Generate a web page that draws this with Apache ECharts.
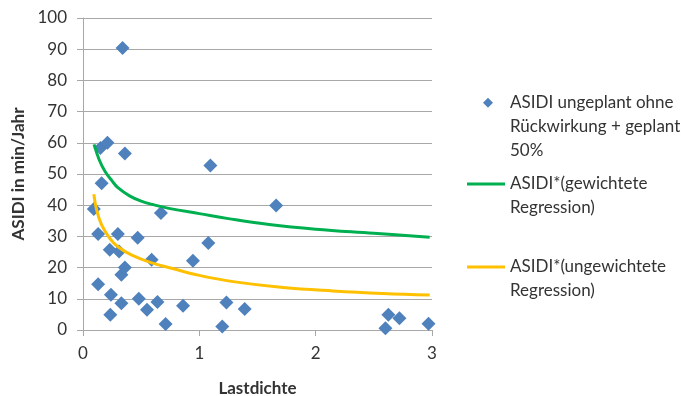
<!DOCTYPE html>
<html>
<head>
<meta charset="utf-8">
<script src="https://cdn.jsdelivr.net/npm/echarts@6/dist/echarts.min.js"></script>
<style>
  html, body { margin: 0; padding: 0; background: #ffffff; }
  #chart { width: 692px; height: 396px; }
</style>
</head>
<body>
<div id="chart"></div>
<script>
// Measured ASIDI per feeder against load density
const lastdichte = [0.093, 0.13, 0.13, 0.15, 0.16, 0.21, 0.23, 0.235, 0.24, 0.30,
  0.31, 0.33, 0.33, 0.34, 0.36, 0.36, 0.47, 0.48, 0.55, 0.59,
  0.64, 0.67, 0.71, 0.86, 0.945, 1.077, 1.095, 1.197, 1.233, 1.39,
  1.66, 2.60, 2.625, 2.72, 2.97];
const asidi = [38.8, 30.8, 14.7, 58.3, 47.0, 60.0, 25.7, 4.9, 11.3, 30.8,
  25.2, 17.7, 8.6, 90.4, 56.6, 20.0, 29.6, 10.0, 6.5, 22.5,
  9.0, 37.5, 1.9, 7.8, 22.2, 27.9, 52.7, 1.1, 8.8, 6.7,
  39.9, 0.6, 4.9, 3.8, 2.0];

// Weighted regression curve
const gewX = [0.095, 0.14, 0.19, 0.25, 0.30, 0.40, 0.50, 0.60, 0.75, 1.0, 1.25, 1.6, 2.0, 2.5, 2.98];
const gewY = [59.5, 54.5, 50.8, 47.8, 45.6, 43.0, 41.3, 40.2, 38.9, 37.3, 35.7, 33.8, 32.3, 31.0, 29.7];

// Unweighted regression curve
const ungewX = [0.093, 0.117, 0.16, 0.23, 0.30, 0.42, 0.59, 0.76, 1.0, 1.29, 1.72, 2.15, 2.58, 2.98];
const ungewY = [43.5, 38.5, 33.7, 29.4, 26.7, 24.0, 21.5, 19.8, 17.5, 15.5, 13.6, 12.5, 11.7, 11.2];

const yTicks = { min: 0, max: 100, interval: 10 };
const xTicks = { min: 0, max: 3, interval: 1 };

const nameScatter = 'ASIDI ungeplant ohne\nRückwirkung + geplant\n50%';
const nameGew = 'ASIDI*(gewichtete\nRegression)';
const nameUngew = 'ASIDI*(ungewichtete\nRegression)';

const zip = (xs, ys) => xs.map((x, i) => [x, ys[i]]);

const FONT = 'Lato, "Open Sans", sans-serif';
const GRID = '#a8a8a8';
const TXT = '#333333';
const LH = 24;

const chart = echarts.init(document.getElementById('chart'), null, { renderer: 'canvas' });

const legendText = { fontFamily: FONT, fontSize: 17, color: TXT, lineHeight: LH };

chart.setOption({
  animation: false,
  backgroundColor: '#ffffff',
  grid: { left: 83, top: 18, right: 260, bottom: 66, containLabel: false, outerBoundsMode: 'none' },
  xAxis: {
    type: 'value',
    min: xTicks.min, max: xTicks.max, interval: xTicks.interval,
    name: 'Lastdichte',
    nameLocation: 'middle',
    nameGap: 50,
    nameTextStyle: { fontFamily: FONT, fontSize: 17, fontWeight: 'bold', color: TXT },
    axisLine: { show: true, onZero: false, lineStyle: { color: GRID, width: 1 } },
    axisTick: { show: true, length: 6, inside: false, lineStyle: { color: GRID } },
    axisLabel: { margin: 15, fontFamily: FONT, fontSize: 17, color: TXT },
    splitLine: { show: false }
  },
  yAxis: {
    type: 'value',
    min: yTicks.min, max: yTicks.max, interval: yTicks.interval,
    name: 'ASIDI in min/Jahr',
    nameLocation: 'middle',
    nameGap: 54,
    nameRotate: 90,
    nameTextStyle: { fontFamily: FONT, fontSize: 17, fontWeight: 'bold', color: TXT },
    axisLine: { show: true, onZero: false, lineStyle: { color: GRID, width: 1 } },
    axisTick: { show: true, length: 6, inside: false, lineStyle: { color: GRID } },
    axisLabel: { margin: 16, fontFamily: FONT, fontSize: 17, color: TXT },
    splitLine: { show: true, lineStyle: { color: GRID, width: 1 } }
  },
  legend: [
    {
      data: [nameScatter],
      left: 483, top: 102.7 - 2.5 * LH,
      orient: 'vertical', padding: 0,
      itemWidth: 10, itemHeight: 10,
      icon: 'diamond',
      formatter: n => '\n\n' + n,
      textStyle: Object.assign({ padding: [0, 0, 0, 12] }, legendText)
    },
    {
      data: [nameGew],
      left: 467, top: 184 - 1.5 * LH,
      orient: 'vertical', padding: 0,
      itemWidth: 38, itemHeight: 3,
      icon: 'rect',
      formatter: n => '\n' + n,
      textStyle: legendText
    },
    {
      data: [nameUngew],
      left: 467, top: 267 - 1.5 * LH,
      orient: 'vertical', padding: 0,
      itemWidth: 38, itemHeight: 3,
      icon: 'rect',
      formatter: n => '\n' + n,
      textStyle: legendText
    }
  ],
  series: [
    {
      name: nameScatter,
      type: 'scatter',
      symbol: 'diamond',
      symbolSize: 14,
      itemStyle: { color: '#4f81bd', opacity: 1 },
      data: zip(lastdichte, asidi),
      z: 2
    },
    {
      name: nameGew,
      type: 'line',
      smooth: 0.4,
      showSymbol: false,
      symbol: 'none',
      lineStyle: { color: '#00b050', width: 3 },
      itemStyle: { color: '#00b050' },
      data: zip(gewX, gewY),
      z: 3
    },
    {
      name: nameUngew,
      type: 'line',
      smooth: 0.4,
      showSymbol: false,
      symbol: 'none',
      lineStyle: { color: '#ffc000', width: 3 },
      itemStyle: { color: '#ffc000' },
      data: zip(ungewX, ungewY),
      z: 3
    }
  ]
});
</script>
</body>
</html>
